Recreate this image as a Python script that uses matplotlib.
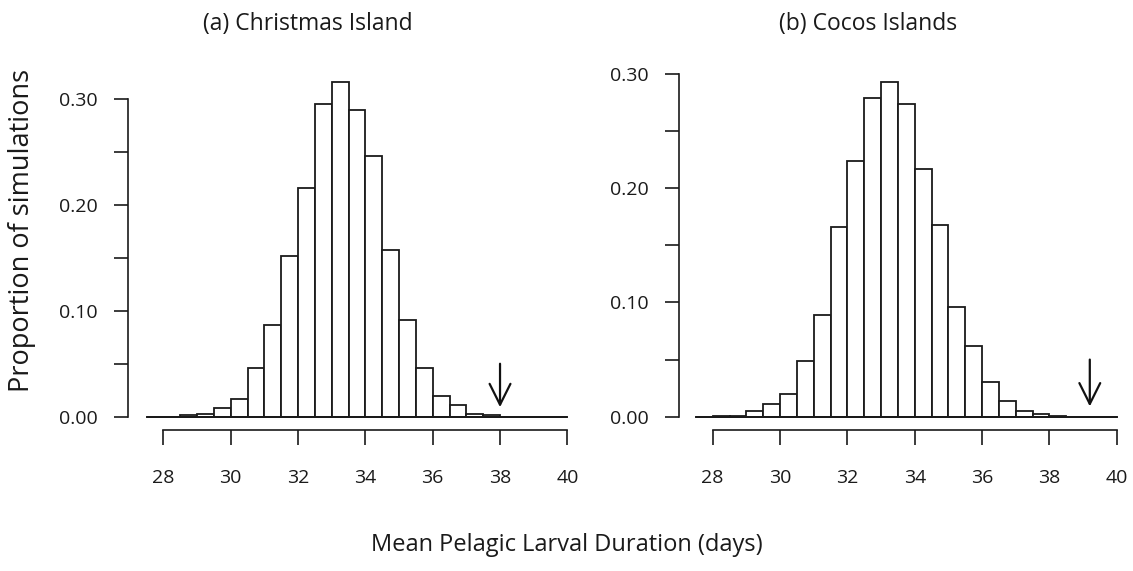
import numpy as np
import matplotlib
matplotlib.use("Agg")
import matplotlib.pyplot as plt

plt.rcParams['font.family'] = ['Open Sans', 'DejaVu Sans']

# bin edges (left) - 0.5 day bins from 27.5 to 40
bin_left = np.arange(27.5, 40.0, 0.5)

# (a) Christmas Island - proportion per bin
christmas = [0.0, 0.0, 0.0015, 0.0025, 0.008, 0.017, 0.046, 0.087, 0.152,
             0.216, 0.295, 0.316, 0.290, 0.246, 0.157, 0.091, 0.046, 0.0195,
             0.011, 0.0025, 0.0015, 0.0, 0.0, 0.0, 0.0]
# (b) Cocos Islands
cocos = [0.0, 0.0005, 0.001, 0.005, 0.011, 0.020, 0.049, 0.089, 0.166,
         0.224, 0.279, 0.293, 0.274, 0.217, 0.168, 0.096, 0.062, 0.030,
         0.014, 0.005, 0.002, 0.001, 0.0, 0.0, 0.0]

titles = ["(a) Christmas Island", "(b) Cocos Islands"]
observed = [38.0, 39.2]  # arrow positions (observed mean PLD)
xticks = [28, 30, 32, 34, 36, 38, 40]
yticks = [0.0, 0.05, 0.10, 0.15, 0.20, 0.25, 0.30]
ylabels = ["0.00", "", "0.10", "", "0.20", "", "0.30"]

fig = plt.figure(figsize=(11.33, 5.71), dpi=100)

# axes boxes picked from pixel positions of the original
ax1 = fig.add_axes([0.11297, 0.24694, 0.40265, 0.63538])
ax2 = fig.add_axes([0.59929, 0.24694, 0.39973, 0.68336])
ax1.set_xlim(26.95, 40.5)
ax1.set_ylim(-0.01256, 0.33)
ax2.set_xlim(27.0, 40.45)
ax2.set_ylim(-0.01165, 0.33)

txtcol = "#1a1a1a"
for ax, vals, title, obs in zip([ax1, ax2], [christmas, cocos], titles, observed):
    ax.bar(bin_left, vals, width=0.5, align='edge', color='white',
           edgecolor='#1a1a1a', linewidth=1.3)
    # zero line along the histogram range
    ax.plot([bin_left[0], bin_left[-1] + 0.5], [0, 0], color='#1a1a1a', lw=1.4)
    ax.annotate("", xy=(obs, 0.009), xytext=(obs, 0.050),
                arrowprops=dict(arrowstyle='->,head_length=1.0,head_width=0.5',
                                color='#111111', lw=1.6, mutation_scale=15,
                                shrinkA=0, shrinkB=0))

    for s in ['top', 'right']:
        ax.spines[s].set_visible(False)
    ax.spines['left'].set_bounds(0, 0.30)
    ax.spines['bottom'].set_bounds(28, 40)
    ax.spines['left'].set_linewidth(1.2)
    ax.spines['bottom'].set_linewidth(1.2)
    ax.spines['left'].set_color('#1a1a1a')
    ax.spines['bottom'].set_color('#1a1a1a')
    ax.set_xticks(xticks)
    ax.set_yticks(yticks)
    ax.set_yticklabels(ylabels)
    ax.tick_params(axis='x', direction='out', length=10.8, width=1.2, pad=17,
                   labelsize=14, colors='#1a1a1a')
    ax.tick_params(axis='y', direction='out', length=10, width=1.2, pad=12,
                   labelsize=14, colors='#1a1a1a')
    ax.patch.set_alpha(0)

fig.text(307.5 / 1133, 1 - 24 / 571, titles[0], ha='center', va='center',
         fontsize=16.5, color=txtcol)
fig.text(868 / 1133, 1 - 24 / 571, titles[1], ha='center', va='center',
         fontsize=16.5, color=txtcol)
fig.text(22 / 1133, 1 - 230 / 571, "Proportion of simulations", rotation=90,
         ha='center', va='center', fontsize=19.5, color=txtcol)
fig.text(567 / 1133, 1 - 545 / 571, "Mean Pelagic Larval Duration (days)",
         ha='center', va='center', fontsize=17, color=txtcol)

fig.savefig("out.png", dpi=100)
